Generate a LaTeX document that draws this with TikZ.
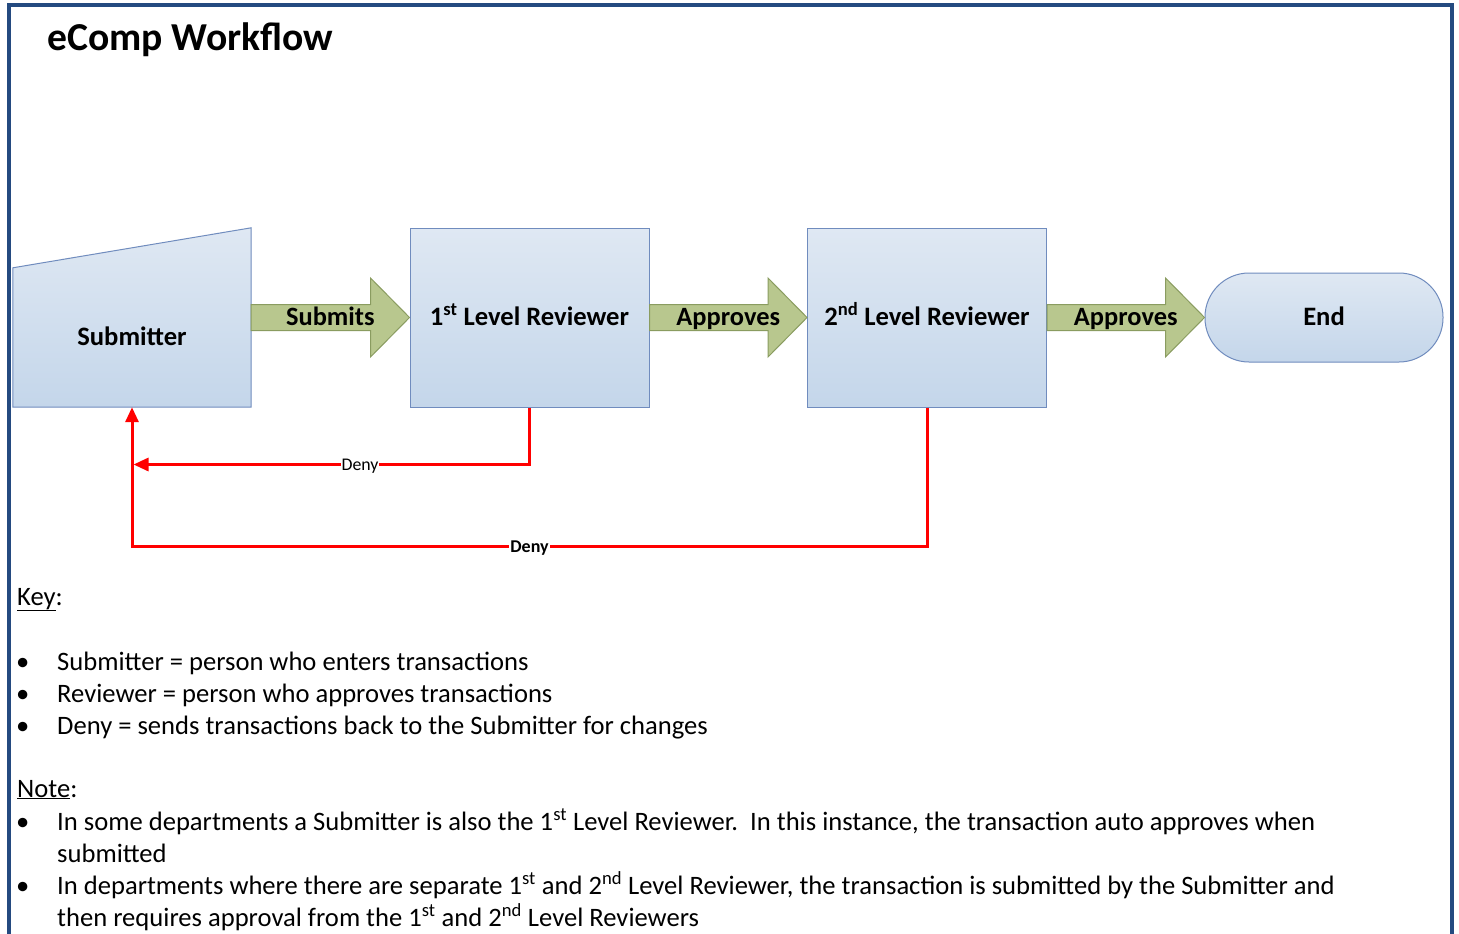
\documentclass[tikz,border=0pt]{standalone}
\usepackage{fontspec}
\setmainfont{Carlito}
\usetikzlibrary{arrows.meta,calc}

\definecolor{framec}{RGB}{36,74,128}
\definecolor{boxtop}{RGB}{223,232,243}
\definecolor{boxbot}{RGB}{196,214,234}
\definecolor{boxline}{RGB}{112,140,190}
\definecolor{arrowfill}{RGB}{184,199,142}
\definecolor{arrowline}{RGB}{138,156,96}
\definecolor{denyred}{RGB}{255,0,0}

\newcommand\flowarrow[3]{%
  \path let \p1=(#1.east), \p2=(#2.west), \n1={\x2-39pt} in
    [draw=arrowline, fill=arrowfill, line width=1pt, line join=miter]
    (\x1,\y1+13pt) -- (\n1,\y1+13pt) -- (\n1,\y1+39.5pt) -- (\p2)
    -- (\n1,\y1-39.5pt) -- (\n1,\y1-13pt) -- (\x1,\y1-13pt) -- cycle;
  \node[font=\fontsize{26.4}{30}\selectfont\bfseries, text height=18.6pt, text depth=6pt,
    inner sep=0pt, anchor=center]
    at ($(#1.east)!0.5!(#2.west)+(0,1.5)$) {#3};
}

\begin{document}
\begin{tikzpicture}[x=1pt,y=-1pt,
  boxtext/.style={font=\fontsize{26.6}{30}\selectfont\bfseries, text height=18.6pt, text depth=3.6pt},
  stepbox/.style={draw=boxline, line width=1pt, top color=boxtop, bottom color=boxbot,
    minimum width=239pt, minimum height=179pt, inner sep=0pt, boxtext},
  endbox/.style={draw=boxline, line width=1pt, top color=boxtop, bottom color=boxbot,
    minimum width=238pt, minimum height=89pt, rounded corners=44pt, inner sep=0pt, boxtext},
  deny/.style={draw=denyred, line width=3pt, -{Triangle[length=15pt,width=13pt]}},
  denylabel/.style={fill=white, inner sep=1pt, text=black, yshift=-1.5pt},
  body/.style={anchor=base west, inner sep=0pt, font=\fontsize{26.6}{32}\selectfont},
  dot/.style={anchor=base west, inner sep=0pt, font=\fontsize{26.6}{32}\selectfont},
]
\useasboundingbox (0,0) rectangle (1459,934);
\fill[white] (0,0) rectangle (1459,934);

% page frame (open at the bottom)
\draw[framec, line width=4pt] (9,936) -- (9,5.5) -- (1452,5.5) -- (1452,936);

% title
\node[anchor=base west, inner sep=0pt, font=\fontsize{39.6}{44}\selectfont\bfseries]
  (title) at (47,51) {eComp Workflow};

% submitter (manual input shape)
\node[minimum width=238pt, minimum height=179pt, inner sep=0pt] (sub) at (132,317.5) {};
\draw[draw=boxline, line width=1pt, top color=boxtop, bottom color=boxbot]
  (sub.south west) -- ($(sub.north west)+(0,40)$) -- (sub.north east) -- (sub.south east) -- cycle;
\node[boxtext, inner sep=0pt] (subtext) at ($(sub.center)+(0,20)$) {Submitter};

% reviewers and end
\node[stepbox] (r1) at (529.5,317.5) {1\textsuperscript{st} Level Reviewer};
\node[stepbox] (r2) at (927,317.5) {2\textsuperscript{nd} Level Reviewer};
\node[endbox] (end) at (1324,317.5) {End};

% forward flow arrows
\flowarrow{sub}{r1}{Submits}
\flowarrow{r1}{r2}{Approves}
\flowarrow{r2}{end}{Approves}

% deny loops back to the submitter
\coordinate (d1) at (sub.south |- 0,464.5);
\coordinate (d2) at (sub.south |- 0,546.5);
\draw[deny] (r1.south) |- node[pos=0.714, denylabel, font=\fontsize{17.8}{20}\selectfont]{Deny} ($(d1)+(1.5,0)$);
\draw[deny] (r2.south) |- node[pos=0.75, denylabel, font=\fontsize{18}{20}\selectfont\bfseries]{Deny} (d2) -- (sub.south);

% key
\node[body] (key) at (17,605) {\underline{Key}:};
\node[dot] (b1) at (16,670) {\textbullet};
\node[body] (k1) at (57,670) {Submitter = person who enters transactions};
\node[dot] (b2) at (16,702) {\textbullet};
\node[body] (k2) at (57,702) {Reviewer = person who approves transactions};
\node[dot] (b3) at (16,734) {\textbullet};
\node[body] (k3) at (57,734) {Deny = sends transactions back to the Submitter for changes};

% notes
\node[body] (note) at (17,797) {\underline{Note}:};
\node[dot] (b4) at (16,830) {\textbullet};
\node[body] (n1a) at (57,830) {In some departments a Submitter is also the 1\textsuperscript{st} Level Reviewer.\ \ In this instance, the transaction auto approves when};
\node[body] (n1b) at (57,862) {submitted};
\node[dot] (b5) at (16,894) {\textbullet};
\node[body] (n2a) at (57,894) {In departments where there are separate 1\textsuperscript{st} and 2\textsuperscript{nd} Level Reviewer, the transaction is submitted by the Submitter and};
\node[body] (n2b) at (57,926) {then requires approval from the 1\textsuperscript{st} and 2\textsuperscript{nd} Level Reviewers};
\end{tikzpicture}
\end{document}
